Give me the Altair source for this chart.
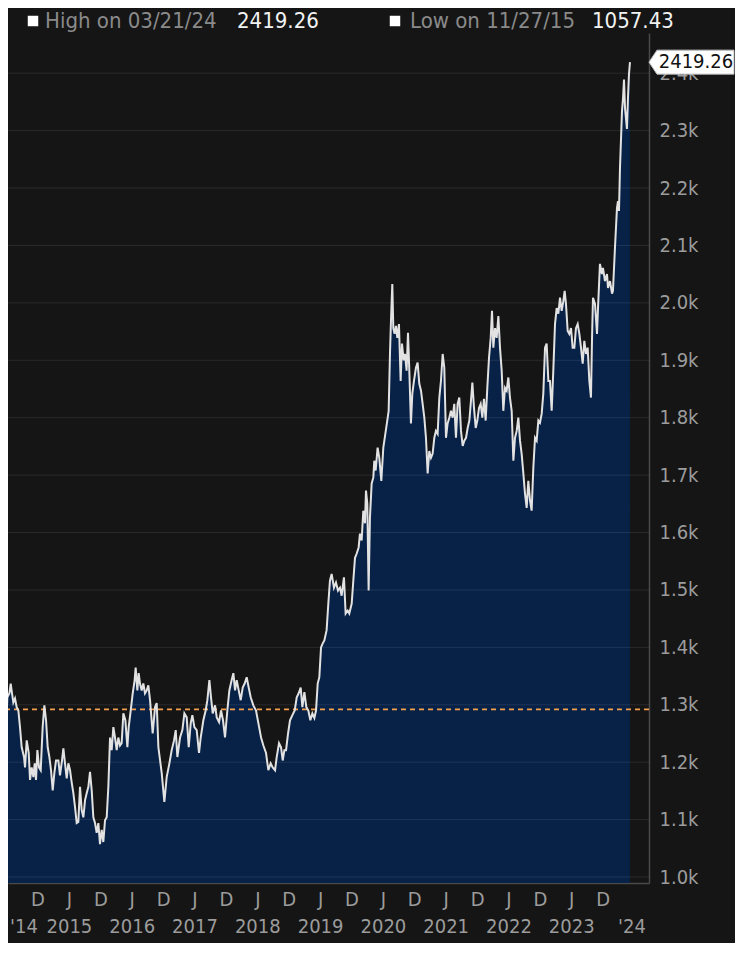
import altair as alt
import pandas as pd

# ---------------- data ----------------
# time in decimal years, value of the series
t_2014_16 = [2014.339, 2014.376, 2014.408, 2014.429, 2014.461, 2014.482, 2014.503, 2014.524, 2014.551, 2014.577,
             2014.604, 2014.630, 2014.657, 2014.694, 2014.710, 2014.737, 2014.769, 2014.790, 2014.816, 2014.843,
             2014.864, 2014.885, 2014.907, 2014.933, 2014.960, 2014.991, 2015.018, 2015.045, 2015.071, 2015.098,
             2015.124, 2015.151, 2015.177, 2015.204, 2015.241, 2015.267, 2015.299, 2015.321, 2015.347, 2015.374,
             2015.400, 2015.427, 2015.453, 2015.480, 2015.506, 2015.533, 2015.559, 2015.586, 2015.612, 2015.639,
             2015.666, 2015.692, 2015.719, 2015.745, 2015.772, 2015.798, 2015.825, 2015.851, 2015.878, 2015.904,
             2015.931, 2015.957, 2015.984, 2016.011, 2016.037, 2016.064, 2016.090, 2016.117, 2016.143, 2016.170,
             2016.196, 2016.223, 2016.249, 2016.276, 2016.308, 2016.340, 2016.361, 2016.393, 2016.425, 2016.456,
             2016.472, 2016.499, 2016.520, 2016.541, 2016.568, 2016.594, 2016.621, 2016.648, 2016.674, 2016.701]
v_2014_16 = [1290, 1247, 1261, 1313, 1320, 1337, 1320, 1304, 1311, 1296,
             1290, 1261, 1226, 1209, 1191, 1238, 1216, 1169, 1191, 1174,
             1198, 1169, 1221, 1191, 1186, 1261, 1299, 1273, 1226, 1209,
             1186, 1151, 1181, 1203, 1203, 1177, 1203, 1224, 1198, 1172,
             1198, 1186, 1165, 1146, 1122, 1094, 1096, 1157, 1117, 1104,
             1134, 1146, 1157, 1183, 1151, 1104, 1094, 1077, 1094, 1057.43,
             1082, 1061, 1099, 1104, 1157, 1243, 1221, 1261, 1243, 1221,
             1243, 1229, 1233, 1285, 1273, 1226, 1261, 1290, 1320, 1343,
             1365, 1325, 1355, 1337, 1325, 1337, 1320, 1325, 1334, 1308]

t_2016_19 = [2016.743, 2016.781, 2016.807, 2016.834, 2016.887, 2016.929, 2016.966, 2017.009, 2017.046, 2017.083,
             2017.110, 2017.136, 2017.179, 2017.216, 2017.248, 2017.285, 2017.317, 2017.349, 2017.375, 2017.407,
             2017.444, 2017.481, 2017.508, 2017.550, 2017.587, 2017.614, 2017.646, 2017.672, 2017.699, 2017.736,
             2017.763, 2017.800, 2017.832, 2017.863, 2017.895, 2017.932, 2017.964, 2018.001, 2018.028, 2018.055,
             2018.081, 2018.113, 2018.145, 2018.177, 2018.208, 2018.240, 2018.272, 2018.304, 2018.346, 2018.389,
             2018.426, 2018.469, 2018.506, 2018.548, 2018.585, 2018.622, 2018.654, 2018.692, 2018.718, 2018.755,
             2018.787, 2018.814, 2018.840, 2018.867, 2018.899, 2018.930, 2018.968, 2019.005, 2019.037, 2019.068,
             2019.100, 2019.127, 2019.159, 2019.190, 2019.222, 2019.254, 2019.286, 2019.318, 2019.344, 2019.371,
             2019.397, 2019.424, 2019.451, 2019.477]
v_2016_19 = [1250, 1296, 1303, 1226, 1181, 1131, 1174, 1198, 1221, 1238,
             1256, 1209, 1243, 1256, 1285, 1278, 1226, 1268, 1282, 1261,
             1256, 1216, 1243, 1273, 1290, 1308, 1343, 1313, 1285, 1299,
             1278, 1270, 1290, 1273, 1243, 1290, 1325, 1343, 1355, 1325,
             1343, 1325, 1308, 1330, 1337, 1348, 1330, 1313, 1299, 1290,
             1268, 1243, 1229, 1216, 1186, 1198, 1191, 1186, 1209, 1233,
             1226, 1203, 1221, 1221, 1250, 1273, 1282, 1290, 1313, 1320,
             1330, 1296, 1322, 1296, 1290, 1273, 1285, 1277, 1290, 1337,
             1348, 1400, 1407, 1412]

t_2019_21 = [2019.513, 2019.540, 2019.566, 2019.593, 2019.630, 2019.662, 2019.694, 2019.726, 2019.752, 2019.789,
             2019.816, 2019.848, 2019.874, 2019.912, 2019.938, 2019.965, 2019.991, 2020.023, 2020.044, 2020.071,
             2020.097, 2020.124, 2020.140, 2020.161, 2020.182, 2020.203, 2020.230, 2020.257, 2020.272, 2020.294,
             2020.325, 2020.352, 2020.384, 2020.416, 2020.448, 2020.479, 2020.501, 2020.522, 2020.538, 2020.559,
             2020.575, 2020.596, 2020.617, 2020.639, 2020.665, 2020.692, 2020.713, 2020.740, 2020.761, 2020.787,
             2020.809, 2020.830, 2020.856, 2020.878, 2020.904, 2020.936, 2020.962, 2020.989, 2021.016, 2021.042,
             2021.069, 2021.095, 2021.122, 2021.148, 2021.175, 2021.201, 2021.228, 2021.254, 2021.281, 2021.308,
             2021.334, 2021.361, 2021.387, 2021.414, 2021.440, 2021.467, 2021.493, 2021.520, 2021.546, 2021.573,
             2021.599, 2021.626]
v_2019_21 = [1430, 1476, 1516, 1528, 1504, 1513, 1499, 1504, 1490, 1522,
             1459, 1464, 1459, 1476, 1516, 1556, 1563, 1574, 1598, 1586,
             1638, 1616, 1673, 1650, 1499, 1626, 1685, 1696, 1725, 1708,
             1748, 1730, 1690, 1748, 1772, 1795, 1812, 1911, 1969, 2033,
             1956, 1946, 1960, 1939, 1963, 1864, 1929, 1900, 1911, 1882,
             1948, 1882, 1790, 1842, 1864, 1887, 1896, 1859, 1847, 1824,
             1800, 1765, 1703, 1742, 1730, 1737, 1765, 1777, 1772, 1835,
             1864, 1911, 1887, 1765, 1790, 1800, 1812, 1800, 1824, 1765,
             1824, 1835]

t_2021_23 = [2021.653, 2021.680, 2021.706, 2021.733, 2021.759, 2021.786, 2021.812, 2021.834, 2021.860, 2021.887,
             2021.913, 2021.940, 2021.966, 2021.993, 2022.019, 2022.046, 2022.072, 2022.099, 2022.126, 2022.147,
             2022.168, 2022.195, 2022.221, 2022.248, 2022.274, 2022.301, 2022.327, 2022.354, 2022.380, 2022.407,
             2022.433, 2022.460, 2022.487, 2022.513, 2022.540, 2022.566, 2022.593, 2022.619, 2022.646, 2022.672,
             2022.699, 2022.725, 2022.752, 2022.778, 2022.805, 2022.832, 2022.858, 2022.885, 2022.911, 2022.938,
             2022.964, 2022.991, 2023.017, 2023.044, 2023.070, 2023.097, 2023.123, 2023.150, 2023.177, 2023.203,
             2023.230, 2023.256, 2023.283, 2023.304, 2023.325, 2023.352, 2023.378, 2023.405, 2023.431, 2023.458,
             2023.484, 2023.511, 2023.538, 2023.564, 2023.591, 2023.617, 2023.644, 2023.670, 2023.697, 2023.723]
v_2021_23 = [1777, 1751, 1760, 1765, 1782, 1795, 1830, 1861, 1817, 1782,
             1795, 1817, 1824, 1800, 1833, 1795, 1852, 1904, 1939, 1986,
             1922, 1956, 1939, 1977, 1922, 1882, 1812, 1852, 1847, 1870,
             1835, 1812, 1725, 1765, 1777, 1800, 1760, 1737, 1703, 1668,
             1643, 1690, 1656, 1638, 1713, 1765, 1760, 1795, 1791, 1807,
             1842, 1922, 1929, 1864, 1864, 1812, 1882, 1963, 1991, 1981,
             2009, 1986, 2003, 2021, 1998, 1951, 1946, 1956, 1922, 1922,
             1956, 1963, 1946, 1922, 1894, 1934, 1911, 1922, 1864, 1835]

t_2023_24 = [2023.739, 2023.755, 2023.787, 2023.819, 2023.835, 2023.866, 2023.898, 2023.914, 2023.946, 2023.978,
             2023.994, 2024.026, 2024.058, 2024.073, 2024.105, 2024.137, 2024.153, 2024.169, 2024.185, 2024.217,
             2024.233, 2024.249, 2024.265, 2024.296, 2024.312, 2024.328, 2024.344]
v_2023_24 = [1934, 2009, 1998, 1946, 1991, 2068, 2050, 2061, 2038, 2050,
             2026, 2038, 2016, 2021, 2096, 2165, 2177, 2160, 2235, 2334,
             2356, 2389, 2339, 2303, 2356, 2398, 2419.26]

# axis ticks / labels
month_tick_pos = [2014.917, 2015.417, 2015.917, 2016.417, 2016.917, 2017.417, 2017.917, 2018.417, 2018.917,
                  2019.417, 2019.917, 2020.417, 2020.917, 2021.417, 2021.917, 2022.417, 2022.917, 2023.417, 2023.917]
month_tick_lab = ["D", "J", "D", "J", "D", "J", "D", "J", "D", "J", "D", "J", "D", "J", "D", "J", "D", "J", "D"]
year_pos = [2014.694, 2015.417, 2016.417, 2017.417, 2018.417, 2019.417, 2020.417, 2021.417, 2022.417, 2023.417, 2024.376]
year_lab = ["'14", "2015", "2016", "2017", "2018", "2019", "2020", "2021", "2022", "2023", "'24"]
y_ticks = [1000, 1100, 1200, 1300, 1400, 1500, 1600, 1700, 1800, 1900, 2000, 2100, 2200, 2300, 2400]
ref_level = [1292]
header_names = ["High on 03/21/24", "Low on 11/27/15"]
header_values = ["2419.26", "1057.43"]

# ---------------- build ----------------
t_all = t_2014_16 + t_2016_19 + t_2019_21 + t_2021_23 + t_2023_24
v_all = v_2014_16 + v_2016_19 + v_2019_21 + v_2021_23 + v_2023_24
df = pd.DataFrame({"t": t_all, "v": v_all})
last = df.tail(1)

FONT = "'DejaVu Sans Condensed', 'Liberation Sans Narrow', 'DejaVu Sans', sans-serif"
BG = "#151515"
AXIS_GRAY = "#9c9c9c"
LINE_GRAY = "#4a4a4a"

xscale = alt.Scale(domain=[2014.439, 2024.647], nice=False, zero=False)
yscale = alt.Scale(domain=[989.6, 2470], nice=False, zero=False)

x_axis = alt.Axis(values=month_tick_pos, labels=False, title=None, grid=False, ticks=False,
                  domain=True, domainColor=LINE_GRAY, domainWidth=1.5)
y_axis = alt.Axis(values=y_ticks, labelExpr="format(datum.value/1000, '.1f') + 'k'", orient="right",
                  title=None, grid=False, ticks=False, domain=True, domainColor=LINE_GRAY, domainWidth=1.5,
                  labelColor=AXIS_GRAY, labelFontSize=20, labelFont=FONT, labelPadding=10,
                  labelFlush=False, labelOverlap=False)

area = alt.Chart(df).mark_area(color="#07244d", opacity=0.9, clip=True).encode(
    x=alt.X("t:Q", scale=xscale, axis=x_axis),
    y=alt.Y("v:Q", scale=yscale, axis=y_axis),
)

grid = alt.Chart(pd.DataFrame({"v": y_ticks})).mark_rule(color="white", opacity=0.09, strokeWidth=1).encode(
    y=alt.Y("v:Q", scale=yscale)
)

ref = alt.Chart(pd.DataFrame({"v": ref_level})).mark_rule(
    color="#f5a04c", strokeDash=[5, 4], strokeWidth=1.8
).encode(y=alt.Y("v:Q", scale=yscale))

line = alt.Chart(df).mark_line(color="#e2e2e2", strokeWidth=2, clip=True).encode(
    x=alt.X("t:Q", scale=xscale),
    y=alt.Y("v:Q", scale=yscale),
)

callout_shape = "M0,0 L0.8,-1.2 L8.5,-1.2 L8.5,1.2 L0.8,1.2 Z"
callout_box = alt.Chart(last).mark_point(
    shape=callout_shape, size=400, filled=True, fill="white", stroke="#bdbdbd", strokeWidth=1,
    opacity=1, xOffset=19
).encode(x=alt.X("t:Q", scale=xscale), y=alt.Y("v:Q", scale=yscale))

callout_text = alt.Chart(last).mark_text(
    xOffset=19 + 8 + 39, align="center", baseline="middle", fontSize=20, font=FONT, color="#111111"
).encode(x=alt.X("t:Q", scale=xscale), y=alt.Y("v:Q", scale=yscale), text=alt.Text("v:Q", format=".2f"))

months = alt.Chart(pd.DataFrame({"t": month_tick_pos, "lab": month_tick_lab})).mark_text(
    align="center", baseline="middle", fontSize=20, font=FONT, color=AXIS_GRAY
).encode(x=alt.X("t:Q", scale=xscale), y=alt.value(867), text="lab:N")

years = alt.Chart(pd.DataFrame({"t": year_pos, "lab": year_lab})).mark_text(
    align="center", baseline="middle", fontSize=20, font=FONT, color=AXIS_GRAY
).encode(x=alt.X("t:Q", scale=xscale), y=alt.value(894), text="lab:N")

# header legend
hdr_y = -5
hdr = pd.DataFrame({"name": header_names, "val": header_values})
sq1 = alt.Chart(hdr.head(1)).mark_point(shape="square", filled=True, size=110, color="white", opacity=1).encode(
    x=alt.value(25), y=alt.value(hdr_y - 7))
sq2 = alt.Chart(hdr.tail(1)).mark_point(shape="square", filled=True, size=110, color="white", opacity=1).encode(
    x=alt.value(387), y=alt.value(hdr_y - 7))
n1 = alt.Chart(hdr.head(1)).mark_text(fontSize=22, font=FONT, color="#8a8a8a", align="left",
                                       baseline="alphabetic").encode(x=alt.value(37), y=alt.value(hdr_y), text="name:N")
v1 = alt.Chart(hdr.head(1)).mark_text(fontSize=22, font=FONT, color="#f2f2f2", align="left",
                                       baseline="alphabetic").encode(x=alt.value(229), y=alt.value(hdr_y), text="val:N")
n2 = alt.Chart(hdr.tail(1)).mark_text(fontSize=22, font=FONT, color="#8a8a8a", align="left",
                                       baseline="alphabetic").encode(x=alt.value(402), y=alt.value(hdr_y), text="name:N")
v2 = alt.Chart(hdr.tail(1)).mark_text(fontSize=22, font=FONT, color="#f2f2f2", align="left",
                                       baseline="alphabetic").encode(x=alt.value(584), y=alt.value(hdr_y), text="val:N")

chart = alt.layer(
    area, grid, ref, line, callout_box, callout_text, months, years, sq1, sq2, n1, v1, n2, v2
).properties(
    width=641, height=850,
    autosize=alt.AutoSizeParams(type="none"),
    padding={"left": 0, "top": 25, "right": 86, "bottom": 60},
    background=BG,
).configure_view(stroke=None)

chart.save("out.html", embed_options={"renderer": "svg", "actions": False})
